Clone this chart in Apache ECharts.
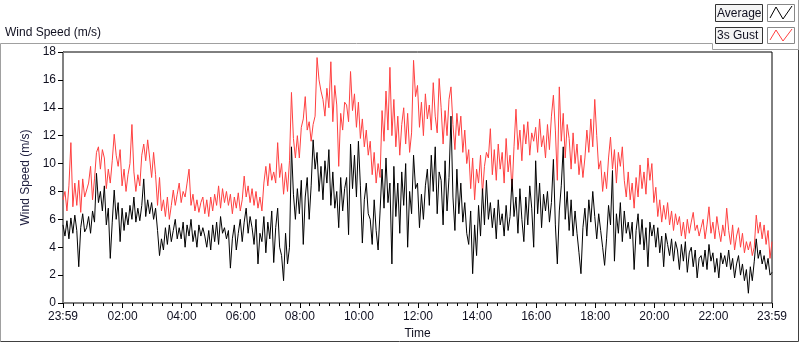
<!DOCTYPE html>
<html>
<head>
<meta charset="utf-8">
<title>Wind Speed</title>
<script src="https://cdn.jsdelivr.net/npm/echarts@6/dist/echarts.min.js"></script>
<style>
  html, body { margin: 0; padding: 0; background: #fff; }
  #chart { width: 800px; height: 342px; }
</style>
</head>
<body>
<div id="chart"></div>
<script>
// one sample every 4 minutes, minutes counted from 23:59
const stepMinutes = 4;

const gustSpeed = [
  7.4, 8.0, 6.6, 8.4, 11.5, 6.9, 8.6, 7.0, 8.8, 6.5, 8.9, 7.6,
  7.6, 8.6, 9.8, 7.4, 8.9, 10.8, 11.2, 9.6, 11.0, 10.4, 8.2, 9.6,
  8.6, 10.2, 12.1, 10.6, 9.8, 11.0, 8.4, 9.6, 8.0, 9.2, 10.0, 12.8,
  9.4, 8.0, 9.2, 8.4, 10.6, 11.4, 10.2, 11.7, 10.4, 9.0, 10.8, 9.2,
  7.0, 9.0, 6.6, 7.4, 6.2, 7.6, 6.0, 7.0, 8.1, 7.0, 7.8, 8.6,
  7.2, 8.0, 7.6, 8.6, 9.6, 7.0, 7.8, 6.6, 7.4, 6.5, 7.2, 7.6,
  6.4, 7.4, 6.2, 7.6, 6.6, 7.8, 7.0, 8.4, 6.8, 8.2, 7.2, 8.0,
  7.0, 7.8, 6.4, 7.6, 6.8, 7.9, 6.6, 7.4, 9.1, 7.6, 8.4, 7.2,
  8.2, 7.0, 8.0, 6.8, 7.6, 6.6, 8.6, 9.8, 8.4, 10.0, 8.8, 9.4,
  8.6, 11.5, 9.0, 10.0, 7.8, 9.4, 8.0, 10.2, 15.1, 11.8, 10.4, 12.0,
  10.4, 12.6, 13.2, 14.8, 12.4, 13.0, 11.6, 12.8, 13.4, 17.6, 16.0, 15.2,
  14.6, 13.4, 15.4, 14.0, 17.3, 13.0, 15.6, 14.2, 9.8, 13.6, 12.4, 14.4,
  14.2, 13.0, 16.6, 13.8, 15.0, 12.6, 14.4, 11.8, 13.2, 11.2, 12.4, 10.6,
  11.6, 9.2, 10.8, 8.6, 10.0, 9.0, 13.8, 11.6, 15.2, 12.4, 16.9, 12.0,
  14.6, 11.2, 13.4, 10.6, 12.8, 14.0, 11.4, 13.6, 10.8, 12.2, 17.4, 14.8,
  15.6, 12.6, 14.4, 12.0, 15.0, 13.2, 14.2, 12.4, 15.8, 13.4, 12.2, 16.1,
  14.0, 11.4, 13.8, 12.0, 14.6, 15.5, 12.8, 11.0, 13.6, 12.0, 13.4, 10.8,
  12.4, 10.0, 11.0, 8.2, 10.4, 7.4, 9.6, 8.6, 10.6, 7.8, 9.8, 10.8,
  10.4, 12.5, 9.2, 11.0, 8.8, 11.4, 9.6, 10.8, 8.6, 11.8, 9.4, 10.6,
  8.0, 11.2, 13.9, 11.0, 12.4, 10.2, 12.8, 11.4, 13.0, 10.6, 12.2, 11.6,
  12.6, 10.8, 13.2, 11.2, 12.0, 10.4, 12.8, 11.0, 13.4, 14.9, 12.4, 8.8,
  15.5, 11.6, 13.6, 10.4, 12.8, 11.8, 9.6, 12.2, 10.0, 11.4, 9.2, 10.6,
  9.0, 10.4, 12.4, 10.8, 13.2, 11.2, 14.6, 12.0, 9.6, 10.2, 8.0, 9.4,
  8.2, 10.4, 11.9, 9.6, 11.0, 8.6, 10.8, 9.8, 11.2, 8.8, 7.6, 9.4,
  7.4, 8.6, 6.8, 9.0, 7.6, 9.9, 8.2, 9.4, 7.8, 10.4, 8.8, 10.0,
  7.2, 8.3, 6.2, 7.4, 5.8, 7.0, 6.0, 7.2, 5.6, 6.6, 5.2, 6.4,
  5.6, 6.2, 4.8, 5.8, 4.6, 6.0, 5.0, 5.8, 6.5, 5.2, 5.6, 4.8,
  5.4, 6.0, 4.6, 5.6, 6.9, 5.0, 5.8, 4.6, 6.2, 5.2, 4.4, 5.6,
  4.8, 6.8, 5.2, 4.2, 5.6, 3.8, 4.8, 5.4, 4.0, 5.0, 3.6, 4.4,
  3.8, 4.4, 3.4, 4.0, 6.3, 5.0, 5.8, 4.6, 5.6, 4.2, 5.2, 3.2,
  4.4
];

const avgSpeed = [
  5.6, 4.8, 5.9, 4.6, 6.1, 5.0, 6.3, 5.2, 2.6, 5.4, 6.4, 5.1,
  5.4, 6.2, 5.0, 6.6, 5.8, 9.3, 7.2, 8.0, 6.6, 8.4, 5.6, 6.8,
  3.2, 5.8, 8.1, 6.0, 7.2, 4.4, 6.8, 5.2, 6.5, 5.6, 7.0, 6.0,
  7.6, 5.8, 6.8, 5.9, 7.0, 8.9, 6.2, 7.4, 6.4, 7.2, 6.0, 6.8,
  5.2, 3.4, 4.6, 3.8, 5.4, 4.2, 5.6, 4.4, 5.2, 6.0, 4.6, 5.4,
  4.6, 5.8, 4.0, 5.6, 4.8, 6.0, 4.4, 5.2, 4.0, 5.6, 4.8, 5.4,
  4.8, 4.0, 5.2, 3.8, 5.6, 4.4, 5.8, 4.2, 6.2, 5.0, 5.4, 4.6,
  5.2, 2.5, 4.6, 5.6, 3.8, 5.0, 6.0, 4.4, 5.8, 6.8, 5.0, 6.2,
  5.4, 4.2, 6.0, 2.8, 5.0, 4.4, 6.2, 3.6, 5.8, 4.6, 6.6, 2.9,
  5.4, 6.8, 4.0, 3.4, 1.6, 5.0, 2.8, 4.0, 11.2, 7.8, 6.0, 8.2,
  6.4, 8.8, 4.2, 7.6, 9.0, 6.0, 8.4, 11.7, 9.6, 10.8, 8.0, 9.8,
  7.4, 10.2, 8.6, 11.0, 7.0, 9.4, 6.8, 8.0, 5.4, 9.0, 6.6, 8.2,
  9.0, 4.9, 11.4, 8.2, 10.6, 7.6, 11.6, 8.4, 4.3, 7.4, 8.6, 6.4,
  6.0, 4.2, 7.4, 5.2, 3.8, 6.6, 9.6, 6.8, 10.4, 7.2, 8.6, 2.8,
  9.8, 6.2, 8.6, 5.0, 9.4, 7.0, 10.0, 4.0, 8.0, 6.4, 10.6, 8.2,
  8.6, 5.4, 7.8, 6.0, 8.4, 9.6, 7.0, 10.6, 8.0, 11.2, 6.4, 9.4,
  8.8, 5.6, 10.2, 6.6, 9.0, 13.4, 7.6, 5.2, 9.6, 6.4, 8.6, 5.8,
  7.2, 5.0, 4.2, 6.6, 2.1, 5.6, 3.4, 7.0, 4.8, 8.2, 5.6, 8.8,
  6.0, 7.2, 5.4, 6.8, 4.6, 7.4, 5.6, 6.4, 4.8, 7.0, 5.2, 6.2,
  8.9, 6.2, 7.6, 5.0, 8.2, 6.0, 4.4, 7.6, 5.6, 8.4, 6.8, 4.0,
  10.2, 6.4, 8.6, 5.4, 7.8, 6.6, 8.0, 5.8, 7.2, 10.3, 5.6, 2.8,
  6.6, 8.4, 11.2, 6.0, 8.0, 5.2, 7.4, 4.8, 6.6, 5.0, 3.6, 2.1,
  5.4, 6.8, 4.8, 7.4, 5.8, 8.0, 6.2, 4.6, 6.4, 5.2, 4.0, 2.7,
  4.6, 7.0, 5.6, 9.5, 3.0, 6.4, 5.0, 7.2, 4.4, 6.6, 5.0, 5.8,
  4.6, 5.8, 2.4, 5.2, 6.4, 4.2, 6.0, 3.8, 5.4, 2.6, 5.8, 4.8,
  5.6, 4.0, 5.4, 3.6, 4.8, 2.6, 5.0, 4.2, 3.4, 4.6, 3.0, 4.4,
  3.8, 2.4, 4.2, 3.0, 4.4, 2.2, 3.6, 4.0, 2.6, 3.8, 1.8, 3.2,
  3.4, 2.6, 3.8, 2.4, 4.2, 3.0, 3.6, 2.2, 3.2, 1.8, 3.6, 2.8,
  3.4, 2.6, 3.8, 2.4, 3.2, 1.8, 2.8, 3.4, 2.0, 2.8, 1.6, 2.4,
  0.7, 2.6, 1.6, 3.0, 4.6, 3.2, 3.8, 2.8, 3.4, 2.4, 3.2, 2.0,
  2.2
];

// labelled ticks (minutes after 23:59) and their text
const timeTicks = [0, 121, 241, 361, 481, 601, 721, 841, 961, 1081, 1201, 1321, 1440];
const timeLabels = ['23:59', '02:00', '04:00', '06:00', '08:00', '10:00', '12:00',
  '14:00', '16:00', '18:00', '20:00', '22:00', '23:59'];
const minorStep = 20;

const seriesNames = ['Average', '3s Gust'];
const seriesColors = ['#000000', '#ff4040'];

const textColor = '#101020';
const font = 'Liberation Sans';

var minorTicks = [];
for (var m = 1; m < 1440; m += minorStep) minorTicks.push(m);

function toPairs(arr) {
  return arr.map(function (v, i) { return [i * stepMinutes, v]; });
}

function legendItem(y, h, name, color) {
  return [
    { type: 'rect', shape: { x: 715.5, y: y + 0.5, width: 47, height: h },
      style: { fill: '#f4f4f4', stroke: '#333', lineWidth: 1 } },
    { type: 'text', x: 717, y: y + h / 2 + 1,
      style: { text: name, fill: textColor, font: '12px ' + font, verticalAlign: 'middle' } },
    { type: 'rect', shape: { x: 767.5, y: y + 0.5, width: 27, height: h },
      style: { fill: '#fff', stroke: '#888', lineWidth: 1 } },
    { type: 'polyline', shape: { points: [[770, y + h - 3], [776, y + 3], [783, y + h - 2], [792, y + 2]] },
      style: { stroke: color, lineWidth: 1, fill: null } }
  ];
}

var chart = echarts.init(document.getElementById('chart'));
chart.setOption({
  animation: false,
  title: {
    text: 'Wind Speed (m/s)',
    left: 5, top: 27, padding: 0,
    textStyle: { fontSize: 12, fontWeight: 'normal', color: textColor, fontFamily: font }
  },
  grid: {
    left: 63, top: 52, right: 28, bottom: 39,
    outerBoundsMode: 'none',
    show: true, borderColor: '#000', borderWidth: 1
  },
  xAxis: [
    {
      type: 'value', min: 0, max: 1440, position: 'bottom',
      name: 'Time', nameLocation: 'middle', nameGap: 25,
      nameTextStyle: { color: textColor, fontSize: 12, fontFamily: font },
      axisLine: { lineStyle: { color: '#808080' } },
      axisTick: { customValues: timeTicks, length: 5, lineStyle: { color: '#000' } },
      axisLabel: {
        customValues: timeTicks, margin: 8, color: textColor, fontSize: 12, fontFamily: font,
        formatter: function (v) { return timeLabels[timeTicks.indexOf(v)]; }
      },
      splitLine: { show: false }
    },
    {
      type: 'value', min: 0, max: 1440, position: 'bottom',
      axisLine: { show: false },
      axisTick: { customValues: minorTicks, length: 3, lineStyle: { color: '#000' } },
      axisLabel: { show: false },
      splitLine: { show: false }
    }
  ],
  yAxis: [
    {
      type: 'value', min: 0, max: 18, interval: 2,
      name: 'Wind Speed (m/s)', nameLocation: 'middle', nameGap: 25,
      nameTextStyle: { color: '#202040', fontSize: 12, fontFamily: font },
      axisLine: { show: true, lineStyle: { color: '#000' } },
      axisTick: { show: true, length: 5, lineStyle: { color: '#000' } },
      axisLabel: { margin: 7, color: textColor, fontSize: 12, fontFamily: font },
      splitLine: { show: false }
    },
    {
      type: 'value', min: 0, max: 18, position: 'right',
      axisLine: { show: true, lineStyle: { color: '#808080' } },
      axisTick: { show: false }, axisLabel: { show: false }, splitLine: { show: false }
    }
  ],
  series: [
    {
      name: seriesNames[1], type: 'line', data: toPairs(gustSpeed),
      showSymbol: false, lineStyle: { width: 1, color: seriesColors[1] },
      itemStyle: { color: seriesColors[1] }
    },
    {
      name: seriesNames[0], type: 'line', data: toPairs(avgSpeed),
      showSymbol: false, lineStyle: { width: 1, color: seriesColors[0] },
      itemStyle: { color: seriesColors[0] }
    }
  ],
  graphic: [
    // outer panel frame
    { type: 'polyline', shape: { points: [[712.5, 43.5], [0.5, 43.5], [0.5, 341.5]] },
      style: { stroke: '#a0a0a0', lineWidth: 1, fill: null } },
    { type: 'polyline', shape: { points: [[0.5, 341.5], [798.5, 341.5], [798.5, 49.5]] },
      style: { stroke: '#404040', lineWidth: 1, fill: null } },
    { type: 'polyline', shape: { points: [[712.5, 43.5], [712.5, 49.5], [798.5, 49.5], [798.5, 0]] },
      style: { stroke: '#a0a0a0', lineWidth: 1, fill: null } }
  ].concat(legendItem(4, 17, seriesNames[0], seriesColors[0]))
   .concat(legendItem(27, 16, seriesNames[1], seriesColors[1]))
});
</script>
</body>
</html>
